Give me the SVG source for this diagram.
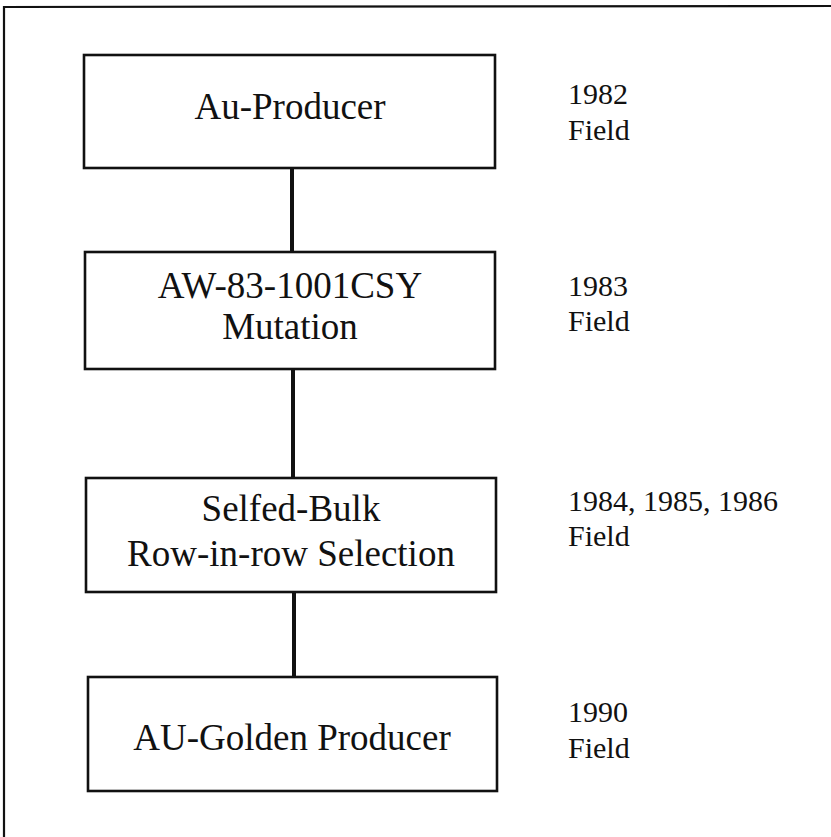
<svg xmlns="http://www.w3.org/2000/svg" width="831" height="837" viewBox="0 0 831 837">
  <style>
    .frame { fill: none; stroke: #111; stroke-width: 2.2; }
    .box { fill: #fff; stroke: #111; stroke-width: 2.6; }
    .link { stroke: #111; stroke-width: 4; fill: none; }
    .lbl { font-family: "Liberation Serif", "Times New Roman", serif; font-size: 37px; fill: #111; text-anchor: middle; }
    .note { font-family: "Liberation Serif", "Times New Roman", serif; font-size: 30px; fill: #111; }
  </style>
  <rect width="831" height="837" fill="#fff"/>

  <!-- outer frame (top and left edges) -->
  <path class="frame" d="M 4 837 L 4 7 L 831 6"/>

  <!-- connectors -->
  <g id="connectors">
    <line class="link" x1="292" y1="168" x2="292" y2="252"/>
    <line class="link" x1="293" y1="369" x2="293" y2="478"/>
    <line class="link" x1="294" y1="592" x2="294" y2="677"/>
  </g>

  <g id="node-au-producer">
    <rect class="box" x="84" y="55" width="411" height="113"/>
    <text class="lbl" x="290" y="119">Au-Producer</text>
  </g>
  <g id="node-aw83">
    <rect class="box" x="85" y="252" width="410" height="117"/>
    <text class="lbl" x="290" y="298">AW-83-1001CSY</text>
    <text class="lbl" x="290" y="339">Mutation</text>
  </g>
  <g id="node-selfed-bulk">
    <rect class="box" x="86" y="478" width="410" height="114"/>
    <text class="lbl" x="291" y="521">Selfed-Bulk</text>
    <text class="lbl" x="291" y="566">Row-in-row Selection</text>
  </g>
  <g id="node-au-golden">
    <rect class="box" x="88" y="677" width="409" height="114"/>
    <text class="lbl" x="292" y="750">AU-Golden Producer</text>
  </g>

  <!-- year / method notes -->
  <g id="note-1982">
    <text class="note" x="568" y="104">1982</text>
    <text class="note" x="568" y="140">Field</text>
  </g>
  <g id="note-1983">
    <text class="note" x="568" y="296">1983</text>
    <text class="note" x="568" y="331">Field</text>
  </g>
  <g id="note-1984">
    <text class="note" x="568" y="511">1984, 1985, 1986</text>
    <text class="note" x="568" y="546">Field</text>
  </g>
  <g id="note-1990">
    <text class="note" x="568" y="722">1990</text>
    <text class="note" x="568" y="758">Field</text>
  </g>
</svg>
